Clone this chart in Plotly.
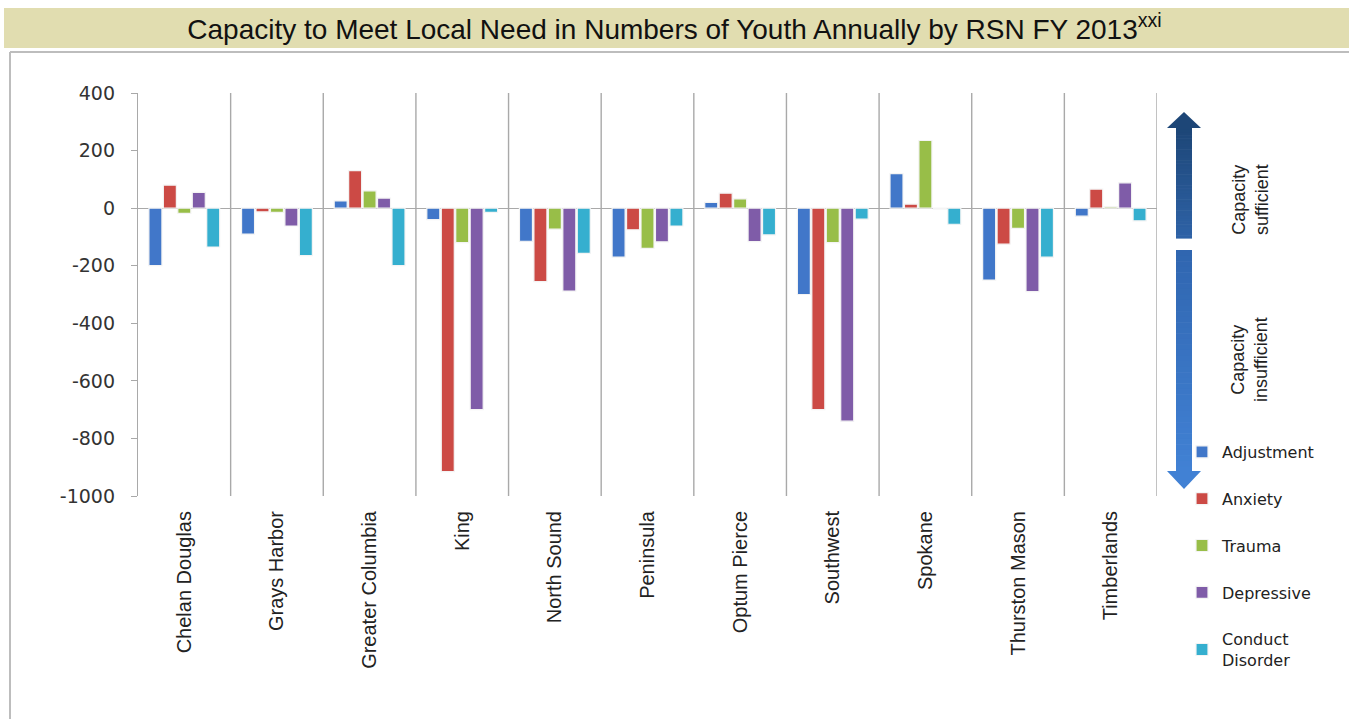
import plotly.graph_objects as go

# Regional Support Networks (RSN)
regions = ["Chelan Douglas", "Grays Harbor", "Greater Columbia", "King", "North Sound",
           "Peninsula", "Optum Pierce", "Southwest", "Spokane", "Thurston Mason", "Timberlands"]

adjustment = [-200, -90, 25, -40, -115, -170, 20, -300, 120, -250, -28]
anxiety = [80, -13, 130, -915, -255, -75, 52, -700, 14, -125, 66]
trauma = [-18, -15, 60, -120, -73, -140, 32, -120, 235, -70, 5]
depressive = [55, -62, 35, -700, -288, -117, -116, -740, -3, -290, 88]
conduct = [-135, -165, -200, -15, -157, -62, -93, -38, -56, -170, -44]

series_names = ["Adjustment", "Anxiety", "Trauma", "Depressive", "Conduct<br>Disorder"]
series_values = [adjustment, anxiety, trauma, depressive, conduct]
series_colors = ["#4177c9", "#cc4a45", "#98be48", "#7f5ca8", "#35afcf"]

y_ticks = [400, 200, 0, -200, -400, -600, -800, -1000]

W, H = 1349, 719
L, R, T, B = 138, 1157, 93, 496   # plot area edges in pixels


def px(x):
    return (x - L) / (R - L)


def py(y):
    return (B - y) / (B - T)


fig = go.Figure()
for i, (name, vals, col) in enumerate(zip(series_names, series_values, series_colors)):
    fig.add_trace(go.Bar(
        x=regions, y=vals, name=name,
        marker=dict(color=col, line=dict(color="#f4f4f4", width=1.2)),
        legendgroup=f"g{i}",
    ))

shapes = []
# category separators
for i in range(len(regions)):
    shapes.append(dict(type="line", xref="x", yref="paper", x0=i + 0.5, x1=i + 0.5,
                       y0=0, y1=1, line=dict(color="#a9a9a9", width=1.4), layer="below"))

# title band and outer frame
shapes.append(dict(type="rect", xref="paper", yref="paper", x0=px(4), x1=px(1349),
                   y0=py(48), y1=py(8), fillcolor="#e1ddb0", line=dict(width=0), layer="below"))
shapes.append(dict(type="line", xref="paper", yref="paper", x0=px(10), x1=px(1349),
                   y0=py(52), y1=py(52), line=dict(color="#bdbdbd", width=2)))
shapes.append(dict(type="line", xref="paper", yref="paper", x0=px(10), x1=px(10),
                   y0=py(52), y1=py(719), line=dict(color="#bdbdbd", width=2)))


def mix(c1, c2, t):
    a = [int(c1[k:k + 2], 16) for k in (1, 3, 5)]
    b = [int(c2[k:k + 2], 16) for k in (1, 3, 5)]
    return "#" + "".join(f"{round(a[j] + (b[j] - a[j]) * t):02x}" for j in range(3))


def gradient_shaft(x0, x1, ytop, ybot, ctop, cbot, steps=40):
    h = (ybot - ytop) / steps
    for k in range(steps):
        ya = ytop + k * h
        yb = ya + h + 0.6
        shapes.append(dict(type="rect", xref="paper", yref="paper",
                           x0=px(x0), x1=px(x1), y0=py(yb), y1=py(ya),
                           fillcolor=mix(ctop, cbot, k / (steps - 1)), line=dict(width=0)))


def head(cx, half, ybase, ytip, color):
    path = (f"M {px(cx - half)} {py(ybase)} L {px(cx + half)} {py(ybase)} "
            f"L {px(cx)} {py(ytip)} Z")
    shapes.append(dict(type="path", xref="paper", yref="paper", path=path,
                       fillcolor=color, line=dict(width=0)))


# "sufficient" arrow (up) and "insufficient" arrow (down)
cx = 1184
gradient_shaft(cx - 8, cx + 8, 127, 238, "#1d4677", "#2e62a6")
head(cx, 17, 128, 112, "#1d4677")
gradient_shaft(cx - 8, cx + 8, 250, 472, "#3066b0", "#4181d4")
head(cx, 17, 471, 489, "#4181d4")

annotations = [
    dict(text="Capacity<br>sufficient", xref="paper", yref="paper", x=px(1250), y=py(200),
         textangle=-90, showarrow=False, font=dict(family="Liberation Sans", size=18, color="#222222"),
         xanchor="center", yanchor="middle"),
    dict(text="Capacity<br>insufficient", xref="paper", yref="paper", x=px(1250), y=py(360),
         textangle=-90, showarrow=False, font=dict(family="Liberation Sans", size=18, color="#222222"),
         xanchor="center", yanchor="middle"),
]

fig.update_layout(
    width=W, height=H,
    margin=dict(l=L, r=W - R, t=T, b=H - B),
    paper_bgcolor="white", plot_bgcolor="white",
    barmode="group", bargap=0.22, bargroupgap=0.1,
    title=dict(text="Capacity to Meet Local Need in Numbers of Youth Annually by RSN FY 2013<sup>xxi</sup>",
               x=0.5, xanchor="center", y=1 - 29 / H, yanchor="middle",
               font=dict(family="Liberation Sans", size=28, color="#111111")),
    xaxis=dict(range=[-0.5, len(regions) - 0.5], showgrid=False, showline=False, ticks="",
               tickangle=-90, ticklabelstandoff=10,
               tickfont=dict(family="Liberation Sans", size=20, color="#222222")),
    yaxis=dict(range=[-1000, 400], tickvals=y_ticks, ticktext=[str(v) for v in y_ticks],
               showgrid=False, showline=True, linecolor="#a9a9a9", linewidth=1.4,
               ticks="outside", ticklen=6, tickcolor="#a9a9a9", ticklabelstandoff=12,
               zeroline=True, zerolinecolor="#a9a9a9", zerolinewidth=1.4,
               tickfont=dict(family="DejaVu Sans", size=19, color="#333333")),
    legend=dict(x=px(1182), y=py(435), xanchor="left", yanchor="top",
                font=dict(family="DejaVu Sans", size=16, color="#222222"),
                tracegroupgap=23, traceorder="grouped", bgcolor="rgba(0,0,0,0)"),
    shapes=shapes,
    annotations=annotations,
)

fig.write_html("out.html")
